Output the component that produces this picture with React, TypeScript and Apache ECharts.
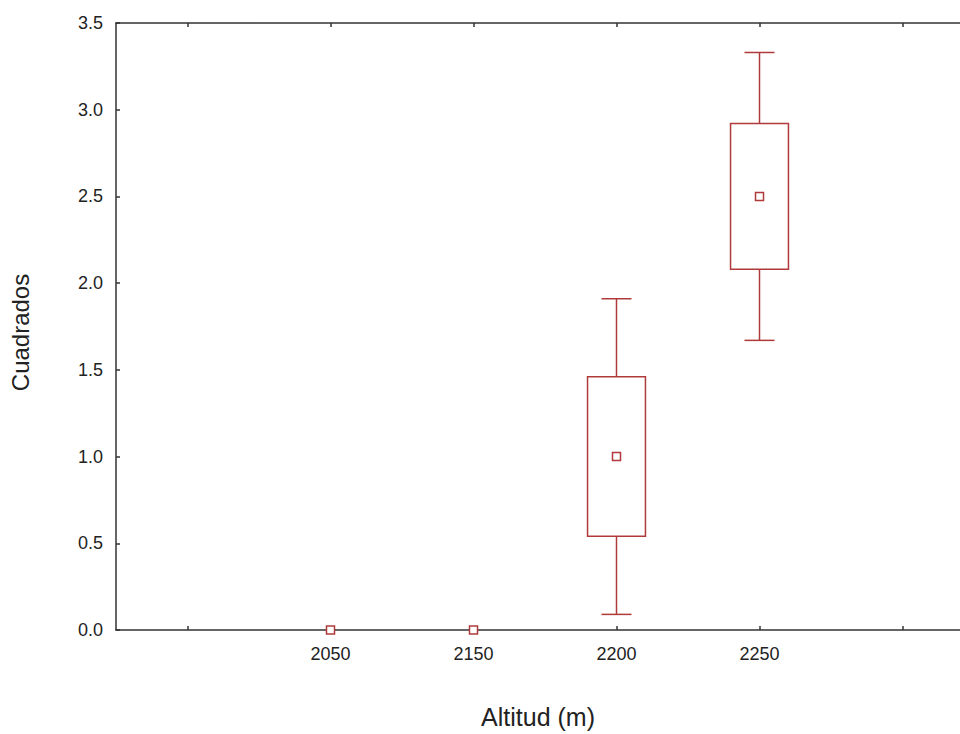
import React, { useEffect, useRef } from "react";
import * as echarts from "echarts";

const categories = ["", "2050", "2150", "2200", "2250", ""];
const means = [null, 0, 0, 1.0, 2.5, null];
const boxLow = [null, 0, 0, 0.54, 2.08, null];
const boxHigh = [null, 0, 0, 1.46, 2.92, null];
const whiskerLow = [null, 0, 0, 0.09, 1.67, null];
const whiskerHigh = [null, 0, 0, 1.91, 3.33, null];

const RED = "#b03a3a";
const AXIS = "#333333";
const FONT = "Liberation Sans, Arial, sans-serif";

const GRID_LEFT = 116;
const BAND = 143;

export default function App() {
  const ref = useRef<HTMLDivElement>(null);
  useEffect(() => {
    document.body.style.margin = "0";
    const chart = echarts.init(ref.current!, null, { renderer: "svg" });
    const data: any[] = [];
    categories.forEach((c, i) => {
      if (means[i] === null) return;
      data.push([i, whiskerLow[i], boxLow[i], means[i], boxHigh[i], whiskerHigh[i]]);
    });
    const tickIdx = categories.map((_, i) => i);
    const labelIdx = categories.map((c, i) => (c ? i : -1)).filter((i) => i >= 0);
    const xMax = (960 - GRID_LEFT) / BAND - 0.5;
    const xCommon = {
      type: "value",
      min: -0.5,
      max: xMax,
      splitLine: { show: false },
      axisLine: { show: true, onZero: false, lineStyle: { color: AXIS, width: 1.5 } },
      axisTick: { show: true, inside: true, length: 4, customValues: tickIdx, lineStyle: { color: AXIS, width: 1.5 } },
    };
    const option: any = {
      animation: false,
      backgroundColor: "#ffffff",
      grid: { left: GRID_LEFT, right: 0, top: 23, bottom: 100, containLabel: false },
      xAxis: [
        {
          ...xCommon,
          position: "bottom",
          axisLabel: {
            color: "#222",
            fontSize: 18,
            fontFamily: FONT,
            margin: 15,
            customValues: labelIdx,
            formatter: (v: number) => categories[Math.round(v)] ?? "",
          },
          name: "Altitud (m)",
          nameLocation: "middle",
          nameGap: 74,
          nameTextStyle: { color: "#222", fontSize: 25, fontFamily: FONT },
        },
        {
          ...xCommon,
          position: "top",
          axisLabel: { show: false },
        },
      ],
      yAxis: {
        type: "value",
        min: 0,
        max: 3.5,
        interval: 0.5,
        position: "left",
        axisLine: { show: true, onZero: false, lineStyle: { color: AXIS, width: 1.5 } },
        axisTick: { show: true, inside: true, length: 4, lineStyle: { color: AXIS, width: 1.5 } },
        axisLabel: {
          color: "#222",
          fontSize: 18,
          fontFamily: FONT,
          margin: 13,
          formatter: (v: number) => v.toFixed(1),
        },
        splitLine: { show: false },
        name: "Cuadrados",
        nameLocation: "middle",
        nameGap: 84,
        nameTextStyle: { color: "#222", fontSize: 24, fontFamily: FONT, padding: [0, 12, 0, 0] },
      },
      series: [
        {
          type: "custom",
          xAxisIndex: 0,
          data,
          z: 1,
          renderItem: (params: any, api: any) => {
            const x = api.value(0);
            const wl = api.value(1);
            const bl = api.value(2);
            const m = api.value(3);
            const bh = api.value(4);
            const wh = api.value(5);
            const band = api.size([1, 0])[0];
            const boxW = band * 0.405;
            const capW = band * 0.21;
            const cx = api.coord([x, m])[0];
            const yWL = api.coord([x, wl])[1];
            const yBL = api.coord([x, bl])[1];
            const yM = api.coord([x, m])[1];
            const yBH = api.coord([x, bh])[1];
            const yWH = api.coord([x, wh])[1];
            const stroke = { stroke: RED, lineWidth: 1.5, fill: "none" };
            const children: any[] = [];
            if (wh - wl > 0) {
              children.push(
                { type: "line", shape: { x1: cx, y1: yWH, x2: cx, y2: yBH }, style: stroke },
                { type: "line", shape: { x1: cx, y1: yBL, x2: cx, y2: yWL }, style: stroke },
                { type: "line", shape: { x1: cx - capW / 2, y1: yWH, x2: cx + capW / 2, y2: yWH }, style: stroke },
                { type: "line", shape: { x1: cx - capW / 2, y1: yWL, x2: cx + capW / 2, y2: yWL }, style: stroke },
                { type: "rect", shape: { x: cx - boxW / 2, y: yBH, width: boxW, height: yBL - yBH }, style: { stroke: RED, lineWidth: 1.5, fill: "#ffffff" } }
              );
            }
            children.push({
              type: "rect",
              shape: { x: cx - 4, y: yM - 4, width: 8, height: 8 },
              style: { stroke: RED, lineWidth: 1.5, fill: "#ffffff" },
            });
            return { type: "group", children };
          },
        },
      ],
    };
    chart.setOption(option);
    return () => chart.dispose();
  }, []);
  return <div ref={ref} style={{ width: 960, height: 734 }} />;
}
